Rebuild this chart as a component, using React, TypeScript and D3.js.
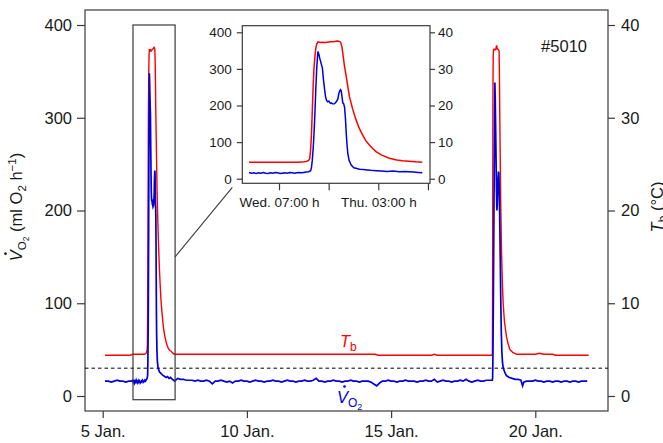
import React, { useEffect, useRef } from 'react';
import * as d3 from 'd3';

// time in days of January, Tb in °C, VO2 in ml O2 h-1

// Tb while the animal is torpid (between the arousals)
const tbQuietDays = [5.08, 5.4, 5.7, 5.95,
  7.6, 8.0, 8.5, 9.0, 9.5, 10.0, 10.5, 11.0, 11.5, 12.0, 12.5, 13.0, 13.5, 14.0, 14.45, 14.55,
  15.0, 15.5, 16.0, 16.4, 16.5, 16.6, 17.0, 17.5, 18.0, 18.45,
  19.5, 20.0, 20.15, 20.3, 20.6, 20.7, 21.2, 21.85];
const tbQuietValues = [4.4, 4.4, 4.4, 4.4,
  4.5, 4.5, 4.5, 4.5, 4.5, 4.5, 4.5, 4.5, 4.5, 4.5, 4.5, 4.5, 4.5, 4.5, 4.5, 4.4,
  4.4, 4.4, 4.4, 4.4, 4.5, 4.4, 4.4, 4.4, 4.4, 4.4,
  4.5, 4.5, 4.6, 4.5, 4.5, 4.4, 4.4, 4.4];

// first arousal (shown in the inset)
const tbSpike1Days = [6.04, 6.1, 6.2, 6.3, 6.4, 6.45, 6.5, 6.52, 6.54, 6.55,
  6.557, 6.564, 6.571, 6.578, 6.585, 6.592, 6.6, 6.608, 6.619, 6.64,
  6.66, 6.68, 6.7, 6.72, 6.74, 6.76, 6.78, 6.8, 6.81, 6.82,
  6.827, 6.84, 6.856, 6.87, 6.883, 6.91, 6.939, 6.965, 6.994, 7.02,
  7.05, 7.08, 7.106, 7.15, 7.217, 7.28, 7.33, 7.383, 7.44, 7.494];
const tbSpike1Values = [4.5, 4.5, 4.5, 4.5, 4.5, 4.5, 4.6, 4.7, 5.0, 5.5,
  8.0, 12.0, 18.5, 25.0, 30.0, 33.0, 35.5, 36.8, 37.4, 37.2,
  37.3, 37.2, 37.3, 37.4, 37.4, 37.5, 37.6, 37.5, 37.2, 36.0,
  34.3, 31.0, 27.9, 25.0, 22.4, 19.0, 16.0, 13.8, 11.9, 10.4,
  9.2, 8.2, 7.4, 6.5, 5.6, 5.1, 4.9, 4.8, 4.6, 4.5];

// second arousal
const tbSpike2Days = [18.5, 18.512, 18.518, 18.523, 18.528, 18.533, 18.54, 18.55, 18.57, 18.6,
  18.63, 18.66, 18.68, 18.71, 18.745, 18.755, 18.77, 18.8, 18.83, 18.86,
  18.886, 18.93, 19.0, 19.06, 19.12, 19.22, 19.35];
const tbSpike2Values = [4.4, 4.6, 9, 18, 28, 34, 36.5, 37.3, 37.4, 37.3,
  37.4, 37.8, 37.4, 37.4, 37.2, 35, 29.7, 21, 15.4, 12,
  10, 8, 6.4, 5.6, 5.0, 4.7, 4.5];

const vo2PreDays = [5.08, 5.2, 5.3, 5.4, 5.5, 5.6, 5.7, 5.8, 5.9, 6.0];
const vo2PreValues = [16, 16, 15, 16, 17, 16, 16, 15, 16, 16];

const vo2Spike1Days = [6.04, 6.06, 6.08, 6.1, 6.12, 6.14, 6.16, 6.18, 6.2, 6.22,
  6.24, 6.26, 6.28, 6.3, 6.32, 6.34, 6.36, 6.38, 6.4, 6.42,
  6.44, 6.46, 6.48, 6.5, 6.52, 6.54, 6.557, 6.564, 6.571, 6.578,
  6.585, 6.592, 6.6, 6.608, 6.615, 6.619, 6.626, 6.633, 6.645, 6.656,
  6.665, 6.675, 6.682, 6.689, 6.7, 6.71, 6.717, 6.725, 6.731, 6.745,
  6.758, 6.772, 6.786, 6.793, 6.8, 6.807, 6.814, 6.82, 6.827, 6.834,
  6.842, 6.849, 6.856, 6.862, 6.869, 6.88, 6.897, 6.92, 6.945, 6.967,
  7.0, 7.03, 7.06, 7.106, 7.15, 7.2, 7.25, 7.3, 7.35, 7.383,
  7.42, 7.46, 7.494];
const vo2Spike1Values = [17, 15, 16, 14, 16, 15, 17, 15, 14, 16,
  15, 17, 16, 14, 15, 16, 15, 17, 16, 15,
  16, 17, 16, 17, 18, 19, 22, 30, 50, 80,
  120, 170, 240, 300, 335, 348, 340, 330, 315, 302,
  270, 242, 225, 215, 210, 212, 208, 206, 207, 204,
  205, 210, 218, 232, 238, 243, 240, 225, 207, 205,
  195, 165, 124, 95, 69, 50, 37, 30, 28, 26,
  25, 24, 23, 22, 21, 20, 21, 19, 20, 19,
  18, 17, 16];

// quiet stretch, one reading every 0.1 day from 7.6 Jan.
const vo2QuietStart = 7.6;
const vo2QuietValues = [19, 18, 18, 17, 17, 17, 16, 17, 16, 16,
  17, 16, 13, 16, 16, 17, 16, 15, 16, 14,
  16, 16, 17, 16, 16, 15, 16, 17, 16, 16,
  15, 16, 16, 17, 16, 16, 15, 16, 17, 16,
  16, 15, 16, 16, 17, 16, 16, 17, 19, 16,
  16, 15, 16, 16, 17, 16, 16, 15, 16, 16,
  17, 16, 16, 15, 16, 16, 16, 15, 13, 11,
  14, 16, 16, 17, 16, 16, 15, 16, 16, 17,
  16, 16, 16, 15, 16, 16, 17, 16, 16, 18,
  15, 16, 17, 16, 16, 15, 16, 16, 17, 16,
  18, 16, 15, 16, 17, 16, 16, 17, 17];

const vo2Spike2Days = [18.5, 18.51, 18.52, 18.53, 18.545, 18.56, 18.575, 18.59, 18.598, 18.61,
  18.625, 18.64, 18.655, 18.667, 18.68, 18.695, 18.71, 18.725, 18.736, 18.75,
  18.765, 18.78, 18.8, 18.82, 18.84, 18.86, 18.88, 18.9, 18.95, 19.0,
  19.05, 19.1, 19.2, 19.3, 19.4, 19.5, 19.56, 19.6, 19.7];
const vo2Spike2Values = [17, 17, 20, 40, 100, 170, 240, 305, 338, 322,
  290, 255, 222, 200, 206, 220, 235, 242, 240, 222,
  195, 160, 110, 70, 48, 37, 32, 29, 25, 22,
  21, 20, 19, 18, 18, 17, 11, 15, 16];

// after the second arousal, one reading every 0.1 day from 19.8 Jan.
const vo2PostStart = 19.8;
const vo2PostValues = [16, 16, 17, 16, 16, 15, 16, 16, 15, 16,
  16, 15, 16, 16, 15, 16, 16, 15, 16, 16, 16];

const vo2Ticks = [0, 100, 200, 300, 400];
const tbTicks = [0, 10, 20, 30, 40];
const dayTicks = [5, 10, 15, 20];
const dayLabels = ['5 Jan.', '10 Jan.', '15 Jan.', '20 Jan.'];
const insetTicks = [6 + 7 / 24, 6 + 17 / 24, 7 + 3 / 24, 7 + 13 / 24];
const insetLabels = ['Wed. 07:00 h', '', 'Thu. 03:00 h', ''];
const thresholdVo2 = 30;
const zoomWindow = [6.05, 7.51];
const insetWindow = [6.04, 7.5];
const animalId = '#5010';

const W = 663;
const H = 443;
const FONT = "'Liberation Sans', Arial, Helvetica, sans-serif";
const RED = '#ff0000';
const BLUE = '#0000dd';
const AXIS = '#3a3a3a';
const INK = '#1a1a1a';

type Pt = [number, number];

const grid = (start: number, vals: number[]): Pt[] =>
  vals.map((v, i) => [Math.round((start + i * 0.1) * 100) / 100, v]);

const pairs = (days: number[], vals: number[]): Pt[] => d3.zip(days, vals) as Pt[];

const tbSeries: Pt[] = d3.sort(
  [...pairs(tbQuietDays, tbQuietValues), ...pairs(tbSpike1Days, tbSpike1Values), ...pairs(tbSpike2Days, tbSpike2Values)],
  (d) => d[0]
);
const vo2Series: Pt[] = d3.sort(
  [
    ...pairs(vo2PreDays, vo2PreValues),
    ...pairs(vo2Spike1Days, vo2Spike1Values),
    ...grid(vo2QuietStart, vo2QuietValues),
    ...pairs(vo2Spike2Days, vo2Spike2Values),
    ...grid(vo2PostStart, vo2PostValues),
  ],
  (d) => d[0]
);

// "V" (rate) with O2 subscript; the dot over the V is drawn after layout
const vo2Label = (g: any, color: string, sub: number, subsub: number, anchor: string) => {
  const t = g.append('text').attr('text-anchor', anchor)
    .attr('font-family', FONT).attr('font-size', 16.5).attr('fill', color);
  t.append('tspan').attr('font-style', 'italic').text('V');
  t.append('tspan').attr('font-size', sub).attr('dy', 4).text('O');
  t.append('tspan').attr('font-size', subsub).attr('dy', 2.5).text('2');
  return t;
};

const dotOverV = (g: any, t: any, color: string) => {
  const box = (t.node() as SVGTextElement).getExtentOfChar(0);
  g.append('circle')
    .attr('cx', box.x + box.width / 2 + 2)
    .attr('cy', -16.5)
    .attr('r', 1.35)
    .attr('fill', color);
};

const App = () => {
  const ref = useRef<SVGSVGElement>(null);

  useEffect(() => {
    const svg = d3.select(ref.current);
    svg.selectAll('*').remove();

    const frame = { left: 85, right: 608, top: 10, bottom: 411 };
    const x = d3.scaleLinear().domain([5, 20]).range([102.7, 535.3]);
    const yV = d3.scaleLinear().domain([0, 400]).range([396, 25]);
    const yT = d3.scaleLinear().domain([0, 40]).range([396, 25]);

    const styleAxis = (g: any, size: number) => {
      g.select('.domain').remove();
      g.attr('font-family', FONT).attr('font-size', size);
      g.selectAll('line').attr('stroke', AXIS).attr('stroke-width', 1.2);
      g.selectAll('text').attr('fill', INK);
    };

    // main axes
    svg.append('g')
      .attr('transform', `translate(${frame.left},0)`)
      .call(d3.axisLeft(yV).tickValues(vo2Ticks).tickSize(8).tickPadding(5))
      .call((g: any) => styleAxis(g, 16.5));
    svg.append('g')
      .attr('transform', `translate(${frame.right},0)`)
      .call(d3.axisRight(yT).tickValues(tbTicks).tickSize(7).tickPadding(6))
      .call((g: any) => styleAxis(g, 16.5));
    svg.append('g')
      .attr('transform', `translate(0,${frame.bottom})`)
      .call(d3.axisBottom(x).tickValues(dayTicks).tickSize(7).tickPadding(7)
        .tickFormat((_d: any, i: number) => dayLabels[i]))
      .call((g: any) => styleAxis(g, 16.5));

    svg.append('rect')
      .attr('x', frame.left).attr('y', frame.top)
      .attr('width', frame.right - frame.left).attr('height', frame.bottom - frame.top)
      .attr('fill', 'none').attr('stroke', AXIS).attr('stroke-width', 1.2);

    // threshold
    svg.append('line')
      .attr('x1', frame.left).attr('x2', frame.right)
      .attr('y1', yV(thresholdVo2)).attr('y2', yV(thresholdVo2))
      .attr('stroke', '#000').attr('stroke-width', 1).attr('stroke-dasharray', '3.5,3');

    const lineT = d3.line<Pt>().x((d) => x(d[0])).y((d) => yT(d[1]));
    const lineV = d3.line<Pt>().x((d) => x(d[0])).y((d) => yV(d[1]));
    svg.append('path').datum(tbSeries).attr('d', lineT)
      .attr('fill', 'none').attr('stroke', RED).attr('stroke-width', 1.4);
    svg.append('path').datum(vo2Series).attr('d', lineV)
      .attr('fill', 'none').attr('stroke', BLUE).attr('stroke-width', 1.7);

    // series labels
    const tbLab = svg.append('text').attr('x', 340).attr('y', 347)
      .attr('font-family', FONT).attr('font-size', 16.5).attr('fill', RED);
    tbLab.append('tspan').attr('font-style', 'italic').text('T');
    tbLab.append('tspan').attr('font-size', 12).attr('dy', 4).text('b');

    const vg = svg.append('g').attr('transform', 'translate(337,403)');
    dotOverV(vg, vo2Label(vg, BLUE, 12, 9, 'start'), BLUE);

    svg.append('text').attr('x', 587).attr('y', 51.5).attr('text-anchor', 'end')
      .attr('font-family', FONT).attr('font-size', 16.5).attr('fill', INK).text(animalId);

    // axis titles
    const yg = svg.append('g').attr('transform', 'translate(22,207) rotate(-90)');
    const yLab = vo2Label(yg, INK, 11.5, 8.5, 'middle');
    yLab.append('tspan').attr('dy', -6.5).text(' (ml O');
    yLab.append('tspan').attr('font-size', 11.5).attr('dy', 4).text('2');
    yLab.append('tspan').attr('dy', -4).text(' h');
    yLab.append('tspan').attr('font-size', 11.5).attr('dy', -6).text('\u22121');
    yLab.append('tspan').attr('dy', 6).text(')');
    dotOverV(yg, yLab, INK);

    const tLab = svg.append('text')
      .attr('transform', 'translate(663,207) rotate(-90)')
      .attr('text-anchor', 'middle').attr('font-family', FONT).attr('font-size', 16.5).attr('fill', INK);
    tLab.append('tspan').attr('font-style', 'italic').text('T');
    tLab.append('tspan').attr('font-size', 12).attr('dy', 4).text('b');
    tLab.append('tspan').attr('dy', -4).text(' (°C)');

    // zoom box and connector
    const inset = { left: 242.3, right: 430, top: 25.7, bottom: 183.3 };
    svg.append('rect')
      .attr('x', x(zoomWindow[0])).attr('y', yV(400))
      .attr('width', x(zoomWindow[1]) - x(zoomWindow[0])).attr('height', yV(-4) - yV(400))
      .attr('fill', 'none').attr('stroke', AXIS).attr('stroke-width', 1.2);
    svg.append('line')
      .attr('x1', x(zoomWindow[1])).attr('y1', yV(150))
      .attr('x2', inset.left - 10).attr('y2', inset.bottom + 4)
      .attr('stroke', AXIS).attr('stroke-width', 1.1);

    // inset
    const xi = d3.scaleLinear().domain([6 + 7 / 24, 7 + 3 / 24]).range([279, 378.3]);
    const yiV = d3.scaleLinear().domain([0, 400]).range([178.7, 32.3]);
    const yiT = d3.scaleLinear().domain([0, 40]).range([178.7, 32.3]);
    const ig = svg.append('g');
    ig.append('rect')
      .attr('x', inset.left).attr('y', inset.top)
      .attr('width', inset.right - inset.left).attr('height', inset.bottom - inset.top)
      .attr('fill', '#fff');

    const inWin = (d: Pt) => d[0] >= insetWindow[0] && d[0] <= insetWindow[1];
    ig.append('path').datum(tbSeries.filter(inWin))
      .attr('d', d3.line<Pt>().x((d) => xi(d[0])).y((d) => yiT(d[1])))
      .attr('fill', 'none').attr('stroke', RED).attr('stroke-width', 1.5);
    ig.append('path').datum(vo2Series.filter(inWin))
      .attr('d', d3.line<Pt>().x((d) => xi(d[0])).y((d) => yiV(d[1])))
      .attr('fill', 'none').attr('stroke', BLUE).attr('stroke-width', 1.5);

    ig.append('g')
      .attr('transform', `translate(${inset.left},0)`)
      .call(d3.axisLeft(yiV).tickValues(vo2Ticks).tickSize(5.5).tickPadding(5))
      .call((g: any) => styleAxis(g, 13.5));
    ig.append('g')
      .attr('transform', `translate(${inset.right},0)`)
      .call(d3.axisRight(yiT).tickValues(tbTicks).tickSize(5).tickPadding(3))
      .call((g: any) => styleAxis(g, 13.5));
    ig.append('g')
      .attr('transform', `translate(0,${inset.bottom})`)
      .call(d3.axisBottom(xi).tickValues(insetTicks).tickSize(7).tickPadding(7)
        .tickFormat((_d: any, i: number) => insetLabels[i]))
      .call((g: any) => styleAxis(g, 13.5));
    ig.append('rect')
      .attr('x', inset.left).attr('y', inset.top)
      .attr('width', inset.right - inset.left).attr('height', inset.bottom - inset.top)
      .attr('fill', 'none').attr('stroke', AXIS).attr('stroke-width', 1.2);
  }, []);

  return (
    <svg
      ref={ref}
      width={W}
      height={H}
      style={{ position: 'absolute', left: 0, top: 0, background: '#fff' }}
    />
  );
};

export default App;
